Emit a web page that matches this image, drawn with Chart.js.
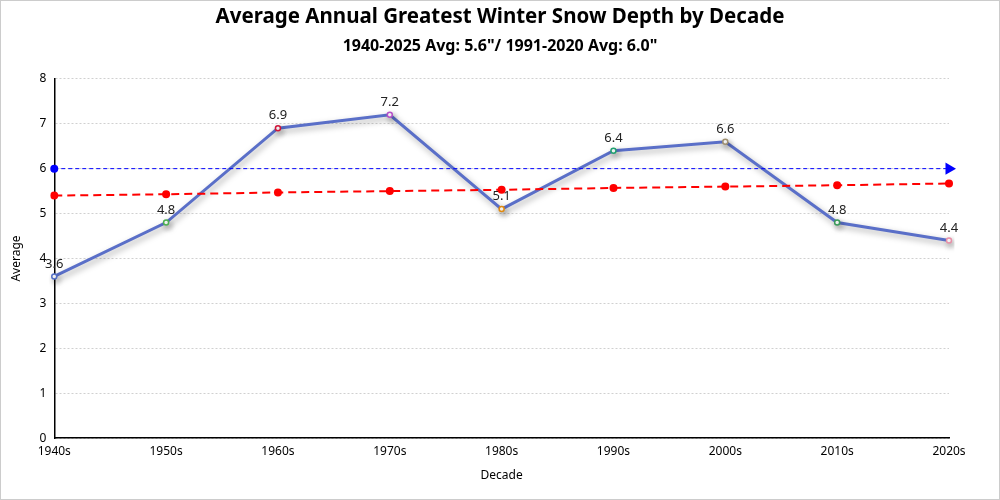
<!DOCTYPE html>
<html>
<head>
<meta charset="utf-8">
<script src="https://cdn.jsdelivr.net/npm/chart.js@4"></script>
<style>
html,body{margin:0;padding:0;background:#fff;}
#wrap{width:998px;height:498px;border:1px solid #cccccc;position:relative;}
canvas{display:block;}
</style>
</head>
<body>
<div id="wrap"><canvas id="c" width="998" height="498"></canvas></div>
<script>
const decades = ["1940s","1950s","1960s","1970s","1980s","1990s","2000s","2010s","2020s"];
const averages = [3.6, 4.8, 6.9, 7.2, 5.1, 6.4, 6.6, 4.8, 4.4];
const trendValues = [5.40, 5.43, 5.47, 5.50, 5.53, 5.57, 5.60, 5.63, 5.67];
const normalValues = [6.0, 6.0, 6.0, 6.0, 6.0, 6.0, 6.0, 6.0, 6.0];
const pointColors = ["#5470c6","#4caf50","#d0163a","#b450c8","#e08a10","#20a070","#a09070","#3a9a5a","#e890a8"];
const yTicks = [0,1,2,3,4,5,6,7,8];

const FONT = "'Noto Sans', 'Open Sans', sans-serif";

const shadowPlugin = {
  id: 'shadowLine',
  beforeDatasetDraw(chart, args) {
    if (args.index === 2) {
      const ctx = chart.ctx;
      ctx.save();
      ctx.shadowColor = 'rgba(0,0,0,0.35)';
      ctx.shadowBlur = 6;
      ctx.shadowOffsetX = 2;
      ctx.shadowOffsetY = 3;
    }
  },
  afterDatasetDraw(chart, args) {
    if (args.index === 2) {
      const ctx = chart.ctx;
      ctx.restore();
      const meta = chart.getDatasetMeta(2);
      ctx.save();
      ctx.font = "13px " + FONT;
      ctx.fillStyle = '#222';
      ctx.textAlign = 'center';
      ctx.textBaseline = 'bottom';
      meta.data.forEach((pt, i) => {
        ctx.fillText(averages[i].toFixed(1), pt.x, pt.y - 6);
      });
      ctx.restore();
    }
  }
};

new Chart(document.getElementById('c'), {
  type: 'line',
  data: {
    labels: decades,
    datasets: [
      {
        label: '1991-2020 Avg',
        data: normalValues,
        borderColor: '#0000ff',
        borderWidth: 1,
        borderDash: [4, 3],
        pointStyle: ['circle', false, false, false, false, false, false, false, 'triangle'],
        rotation: [0,0,0,0,0,0,0,0,90],
        pointRadius: [4,0,0,0,0,0,0,0,7],
        pointBackgroundColor: '#0000ff',
        pointBorderColor: '#0000ff',
        pointBorderWidth: 0,
        fill: false,
        order: 1
      },
      {
        label: 'Trend',
        data: trendValues,
        borderColor: '#ff0000',
        borderWidth: 2,
        borderDash: [8, 5],
        pointRadius: 4,
        pointBackgroundColor: '#ff0000',
        pointBorderColor: '#ff0000',
        pointBorderWidth: 0,
        fill: false,
        order: 2
      },
      {
        label: 'Average',
        data: averages,
        borderColor: '#5a6fc8',
        borderWidth: 3,
        pointRadius: 2.5,
        pointBorderWidth: 1.5,
        pointBackgroundColor: '#ffffff',
        pointBorderColor: pointColors,
        tension: 0,
        fill: false,
        order: 3
      }
    ]
  },
  options: {
    responsive: false,
    animation: false,
    layout: { padding: { left: 4, right: 4, top: 0, bottom: 12 } },
    plugins: {
      legend: { display: false },
      tooltip: { enabled: false },
      title: {
        display: true,
        text: 'Average Annual Greatest Winter Snow Depth by Decade',
        font: { family: FONT, size: 20.5, weight: 'bold' },
        color: '#000',
        padding: { top: 4, bottom: 6 }
      },
      subtitle: {
        display: true,
        text: '1940-2025 Avg: 5.6"/ 1991-2020 Avg: 6.0"',
        font: { family: FONT, size: 16, weight: 'bold' },
        color: '#000',
        padding: { top: 1, bottom: 23 }
      }
    },
    scales: {
      x: {
        offset: false,
        grid: { display: false, drawTicks: false },
        border: { display: true, color: '#000', width: 1.5 },
        ticks: { color: '#000', font: { family: FONT, size: 12 }, padding: 6, maxRotation: 0 },
        title: { display: true, text: 'Decade', color: '#000', font: { family: FONT, size: 12 }, padding: { top: 4 } }
      },
      y: {
        min: 0,
        max: 8,
        afterBuildTicks(axis) { axis.ticks = yTicks.map(v => ({ value: v })); },
        grid: { color: '#d0d0d0', drawTicks: false },
        border: { display: true, color: '#000', width: 1.5, dash: [2, 2] },
        ticks: { color: '#000', font: { family: FONT, size: 12 }, padding: 8 },
        title: { display: true, text: 'Average', color: '#000', font: { family: FONT, size: 12 }, padding: { bottom: 8 } }
      },
      ySpacer: {
        position: 'right',
        min: 0,
        max: 8,
        display: true,
        grid: { display: false, drawTicks: false },
        border: { display: false },
        ticks: { display: false },
        afterFit(scale) { scale.width = 46; }
      }
    }
  },
  plugins: [shadowPlugin]
});
</script>
</body>
</html>
